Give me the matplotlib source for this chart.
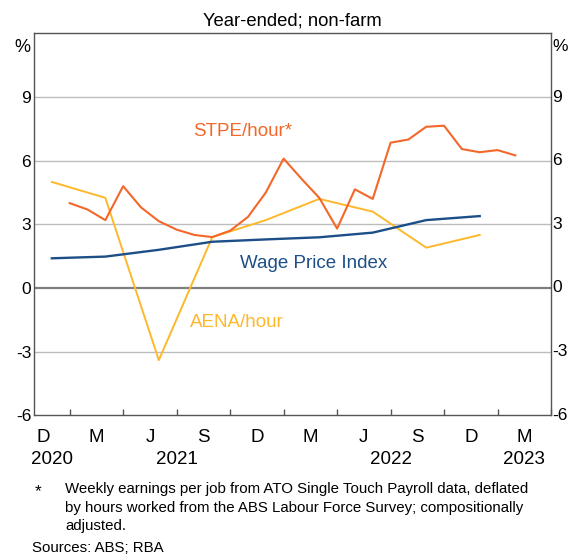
import matplotlib
matplotlib.use("Agg")
import matplotlib.pyplot as plt
import matplotlib.transforms as mtransforms

plt.rcParams['font.family'] = ['Liberation Sans', 'DejaVu Sans']
plt.rcParams['axes.unicode_minus'] = False

# x axis in months, 0 = start of Nov 2020, 29 = start of Apr 2023
quarterly_x = [1, 4, 7, 10, 13, 16, 19, 22, 25]
monthly_x = list(range(2, 28))

aena = [5.0, 4.25, -3.4, 2.4, 3.2, 4.2, 3.6, 1.9, 2.5]
wpi = [1.4, 1.48, 1.8, 2.18, 2.29, 2.39, 2.61, 3.2, 3.39]
stpe = [4.0, 3.7, 3.2, 4.8, 3.8, 3.15, 2.75, 2.5, 2.4, 2.7, 3.35, 4.5, 6.1,
        5.15, 4.25, 2.8, 4.65, 4.2, 6.85, 7.0, 7.6, 7.65, 6.55, 6.4, 6.5, 6.25]

quarter_labels = ['D', 'M', 'J', 'S', 'D', 'M', 'J', 'S', 'D', 'M']
years = ['2020', '2021', '2022', '2023']
year_pos = [1, 8, 20, 27.5]
yticks = [-6, -3, 0, 3, 6, 9]

orange = '#F4672A'
yellow = '#FDB92B'
blue = '#1C4F87'

fig = plt.figure(figsize=(5.69, 5.59), dpi=100)
ax = fig.add_axes([0.0598, 0.2571, 0.9086, 0.6831])

for v in [-3, 3, 6, 9]:
    ax.axhline(v, color='#BDBDBD', lw=1.0, zorder=1)
ax.axhline(0, color='#7F7F7F', lw=1.6, zorder=1)

ax.plot(quarterly_x, aena, color=yellow, lw=1.4, zorder=3)
ax.plot(quarterly_x, wpi, color=blue, lw=1.7, zorder=3)
ax.plot(monthly_x, stpe, color=orange, lw=1.5, zorder=4)

ax.set_xlim(0, 29)
ax.set_ylim(-6, 12)

ax.set_yticks(yticks)
ax.tick_params(axis='y', length=0, labelsize=12.5, pad=2,
               labelleft=True, labelright=True)
ax.tick_params(axis='y', which='major', labelright=False)
ax.set_xticks(range(2, 30, 3))
ax.tick_params(axis='x', direction='in', length=4, width=1, color='#555555',
               labelbottom=False)

for s in ax.spines.values():
    s.set_color('#555555')
    s.set_linewidth(1.0)

# right-hand labels drawn as text so they sit flush with the axis
for v in yticks:
    ax.text(1.002, v, str(v), transform=mtransforms.blended_transform_factory(
        ax.transAxes, ax.transData), ha='left', va='center', fontsize=12.5)

trans = mtransforms.blended_transform_factory(ax.transData, ax.transAxes)
for i, lab in enumerate(quarter_labels):
    ax.text(0.5 + 3 * i, -0.057, lab, transform=trans, ha='center',
            va='center', fontsize=13.5)
for yr, xp in zip(years, year_pos):
    ax.text(xp, -0.117, yr, transform=trans, ha='center', va='center',
            fontsize=13.5)

# percent signs at the top of both axes
ax.text(-0.008, 0.985, '%', transform=ax.transAxes, ha='right', va='top',
        fontsize=13)
ax.text(1.002, 0.985, '%', transform=ax.transAxes, ha='left', va='top',
        fontsize=12.5)

ax.text(11.7, 7.4, 'STPE/hour*', color=orange, fontsize=13.5,
        ha='center', va='center')
ax.text(15.7, 1.15, 'Wage Price Index', color=blue, fontsize=13.5,
        ha='center', va='center')
ax.text(11.35, -1.65, 'AENA/hour', color=yellow, fontsize=13.5,
        ha='center', va='center')

fig.text(0.514, 0.9624, 'Year-ended; non-farm', ha='center', va='center',
         fontsize=13.3)

fig.text(35 / 569, 1 - 492 / 559, '*', ha='left', va='center', fontsize=12.5)
fig.text(65 / 569, 1 - 482 / 559,
         'Weekly earnings per job from ATO Single Touch Payroll data, deflated\n'
         'by hours worked from the ABS Labour Force Survey; compositionally\n'
         'adjusted.', ha='left', va='top', fontsize=10.8, linespacing=1.42)
fig.text(32 / 569, 1 - 548 / 559, 'Sources: ABS; RBA', ha='left',
         va='center', fontsize=10.8)

fig.savefig('out.png', dpi=100)
